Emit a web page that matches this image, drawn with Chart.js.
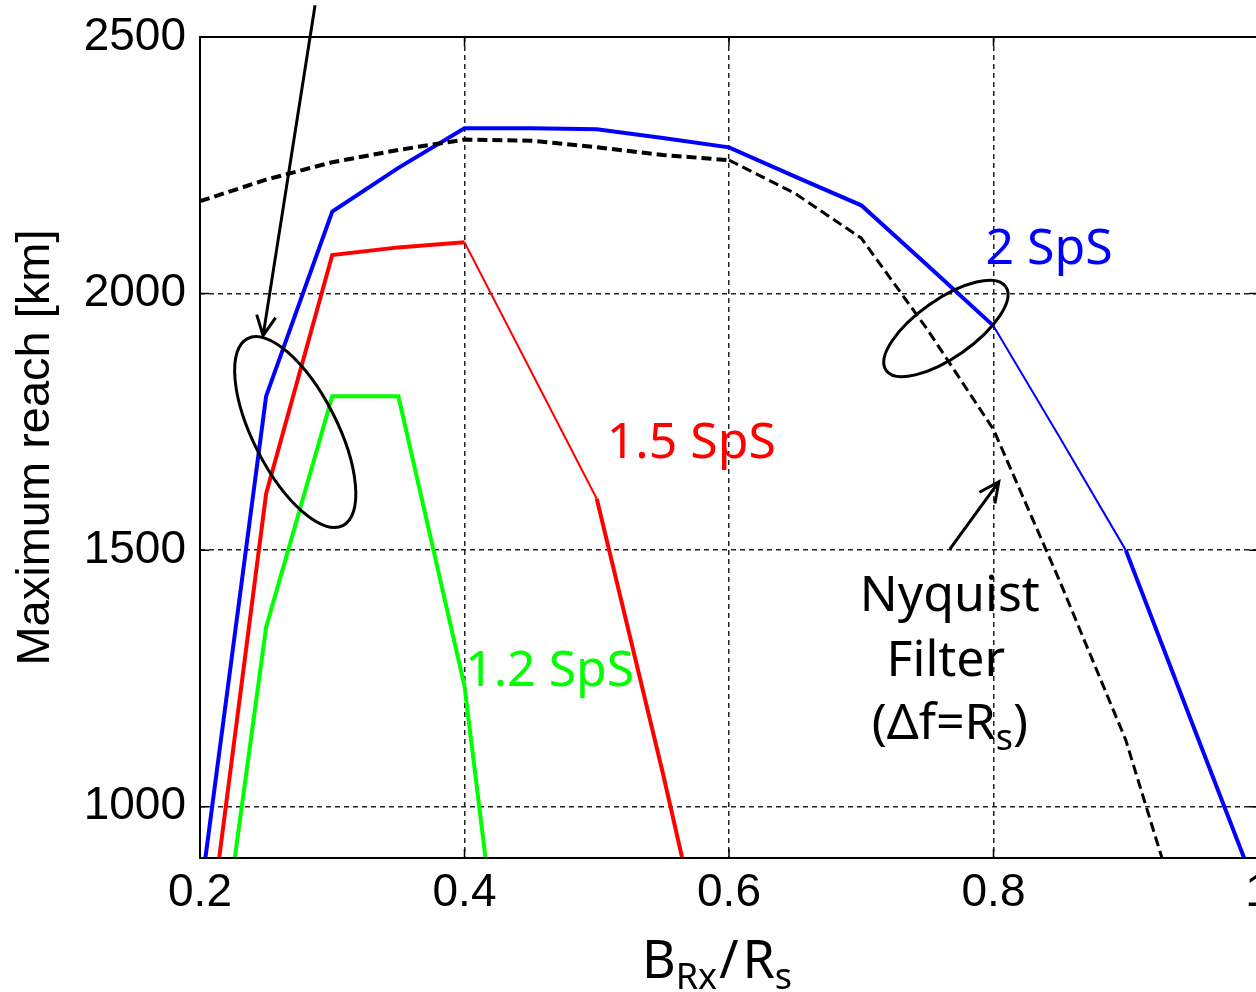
<!DOCTYPE html>
<html>
<head>
<meta charset="utf-8">
<script src="https://cdn.jsdelivr.net/npm/chart.js@4.4.1/dist/chart.umd.min.js"></script>
<style>
  html, body { margin: 0; padding: 0; background: #fff; overflow: hidden; }
  canvas { display: block; }
</style>
</head>
<body>
<canvas id="myChart" width="1300" height="992"></canvas>
<script>
// values
let xs = [0.2, 0.25, 0.3, 0.35, 0.4, 0.45, 0.5, 0.55, 0.6, 0.65, 0.7, 0.75, 0.8, 0.85, 0.9, 0.95, 1.0];
let sps2 = [820, 1800, 2160, 2245, 2322, 2322, 2320, 2303, 2285, 2228, 2172, 2055, 1937, 1720, 1500, 1164, 830];
let sps15 = [610, 1610, 2075, 2090, 2100, 1850, 1600, 1065, 500, null, null, null, null, null, null, null, null];
let sps12 = [400, 1350, 1800, 1800, 1235, 180, null, null, null, null, null, null, null, null, null, null, null];
let nyquist = [2180, 2222, 2256, 2280, 2300, 2298, 2285, 2270, 2260, 2195, 2108, 1930, 1735, 1440, 1130, 710, 300];

let xTicks = [0.2, 0.4, 0.6, 0.8, 1.0];
let xTickLabels = ["0.2", "0.4", "0.6", "0.8", "1"];
let yTicks = [1000, 1500, 2000, 2500];

function points(ys) {
  let out = [];
  ys.forEach(function (y, i) {
    if (y !== null) out.push({ x: xs[i], y: y });
  });
  return out;
}

// thin segments as they look in the picture
function thinBetween(a, b, thick, thin) {
  return function (ctx) {
    let x0 = ctx.p0.parsed.x;
    return (x0 >= a - 1e-6 && x0 < b - 1e-6) ? thin : thick;
  };
}

function drawSubText(ctx, parts, cx, y, big, small, family, color) {
  let total = 0;
  parts.forEach(function (p) {
    ctx.font = (p.sub ? small : big) + "px " + family;
    p.w = ctx.measureText(p.t).width + (p.gap || 0);
    total += p.w;
  });
  let x = cx - total / 2;
  ctx.fillStyle = color;
  ctx.textAlign = "left";
  ctx.textBaseline = "alphabetic";
  parts.forEach(function (p) {
    ctx.font = (p.sub ? small : big) + "px " + family;
    ctx.fillText(p.t, x, p.sub ? y + big * 0.22 : y);
    x += p.w;
  });
}

function arrow(ctx, x1, y1, x2, y2) {
  let ang = Math.atan2(y2 - y1, x2 - x1);
  let len = 22, spread = 0.45;
  ctx.beginPath();
  ctx.moveTo(x1, y1);
  ctx.lineTo(x2, y2);
  ctx.moveTo(x2 - len * Math.cos(ang - spread), y2 - len * Math.sin(ang - spread));
  ctx.lineTo(x2, y2);
  ctx.lineTo(x2 - len * Math.cos(ang + spread), y2 - len * Math.sin(ang + spread));
  ctx.stroke();
}

const decor = {
  id: "decor",
  afterDatasetsDraw(chart) {
    const ctx = chart.ctx;
    const a = chart.chartArea;
    const xs_ = chart.scales.x, ys_ = chart.scales.y;
    ctx.save();
    // inner tick marks
    ctx.strokeStyle = "#000";
    ctx.lineWidth = 1.5;
    ctx.beginPath();
    xTicks.forEach(function (v) {
      let px = xs_.getPixelForValue(v);
      ctx.moveTo(px, a.bottom); ctx.lineTo(px, a.bottom - 9);
      ctx.moveTo(px, a.top); ctx.lineTo(px, a.top + 9);
    });
    yTicks.forEach(function (v) {
      let py = ys_.getPixelForValue(v);
      ctx.moveTo(a.left, py); ctx.lineTo(a.left + 9, py);
      ctx.moveTo(a.right, py); ctx.lineTo(a.right - 9, py);
    });
    ctx.stroke();
    // frame
    ctx.lineWidth = 2;
    ctx.strokeRect(a.left, a.top, a.right - a.left, a.bottom - a.top);
    ctx.restore();
  },
  afterDraw(chart) {
    const ctx = chart.ctx;
    const a = chart.chartArea;
    const X = v => chart.scales.x.getPixelForValue(v);
    const Y = v => chart.scales.y.getPixelForValue(v);
    ctx.save();

    // x axis title  B_Rx / R_s
    drawSubText(ctx, [
      { t: "B" }, { t: "Rx", sub: true, gap: 2 }, { t: "/", gap: 4 }, { t: "R" }, { t: "s", sub: true }
    ], (a.left + a.right) / 2 - 12, 978, 52, 36, '"Noto Sans"', "#000");

    // series labels
    ctx.font = '50px "Noto Sans"';
    ctx.textAlign = "center";
    ctx.textBaseline = "alphabetic";
    ctx.fillStyle = "#0000ff";
    ctx.fillText("2 SpS", X(0.842), Y(2057));
    ctx.fillStyle = "#ff0000";
    ctx.fillText("1.5 SpS", X(0.5715), Y(1680));
    ctx.fillStyle = "#00ff00";
    ctx.fillText("1.2 SpS", X(0.4644), Y(1236));
    ctx.fillStyle = "#000";
    ctx.fillText("Nyquist", X(0.767), Y(1381));
    ctx.fillText("Filter", X(0.764), Y(1254));
    drawSubText(ctx, [
      { t: "(\u0394f=R" }, { t: "s", sub: true }, { t: ")" }
    ], X(0.767), Y(1131), 50, 36, '"Noto Sans"', "#000");

    // ellipses and arrows
    ctx.strokeStyle = "#000";
    ctx.lineWidth = 3;
    ctx.beginPath();
    ctx.ellipse(X(0.272), Y(1730), 105, 42, 63 * Math.PI / 180, 0, Math.PI * 2);
    ctx.stroke();
    ctx.beginPath();
    ctx.ellipse(X(0.764), Y(1932), 73, 29, -35 * Math.PI / 180, 0, Math.PI * 2);
    ctx.stroke();
    arrow(ctx, X(0.287), Y(2562), X(0.2477), Y(1918));
    arrow(ctx, X(0.767), Y(1502), X(0.804), Y(1633));
    ctx.restore();
  }
};

const ctx = document.getElementById("myChart").getContext("2d");
const chart = new Chart(ctx, {
  type: "line",
  data: {
    datasets: [
      {
        label: "1.2 SpS",
        data: points(sps12),
        borderColor: "#00ff00",
        borderWidth: 4
      },
      {
        label: "1.5 SpS",
        data: points(sps15),
        borderColor: "#ff0000",
        borderWidth: 4,
        segment: { borderWidth: thinBetween(0.4, 0.5, 4, 2) }
      },
      {
        label: "Nyquist",
        data: points(nyquist),
        borderColor: "#000",
        borderWidth: 4,
        borderDash: [10, 5],
        segment: { borderWidth: thinBetween(0.6, 1.01, 4, 3) }
      },
      {
        label: "2 SpS",
        data: points(sps2),
        borderColor: "#0000ff",
        borderWidth: 4,
        segment: { borderWidth: thinBetween(0.8, 0.9, 4, 2) }
      }
    ]
  },
  options: {
    responsive: false,
    animation: false,
    events: [],
    layout: { padding: { top: 37, right: 42, left: 0, bottom: 0 } },
    elements: { point: { radius: 0 }, line: { tension: 0 } },
    datasets: { line: { clip: 0 } },
    plugins: {
      legend: { display: false },
      tooltip: { enabled: false }
    },
    scales: {
      x: {
        type: "linear",
        min: 0.2,
        max: 1.0,
        afterBuildTicks: function (axis) {
          axis.ticks = xTicks.map(v => ({ value: v }));
        },
        afterFit: function (axis) {
          axis.height = 134;
          axis.paddingLeft = 0;
          axis.paddingRight = 0;
        },
        ticks: {
          callback: function (v, i) { return xTickLabels[i]; },
          font: { family: "Liberation Sans", size: 46 },
          color: "#000",
          padding: 8,
          maxRotation: 0,
          autoSkip: false
        },
        grid: { color: "#222", lineWidth: 1.5, drawTicks: false },
        border: { display: false, dash: [5, 4] }
      },
      y: {
        type: "linear",
        min: 900,
        max: 2500,
        afterBuildTicks: function (axis) {
          axis.ticks = yTicks.map(v => ({ value: v }));
        },
        afterFit: function (axis) {
          axis.width = 200;
          axis.paddingTop = 0;
          axis.paddingBottom = 0;
        },
        ticks: {
          callback: function (v) { return String(v); },
          font: { family: "Liberation Sans", size: 46 },
          color: "#000",
          padding: 14
        },
        title: {
          display: true,
          text: "Maximum reach [km]",
          font: { family: "Liberation Sans", size: 47 },
          color: "#000",
          padding: { top: 8, bottom: 0 }
        },
        grid: { color: "#222", lineWidth: 1.5, drawTicks: false },
        border: { display: false, dash: [5, 4] }
      }
    }
  },
  plugins: [decor]
});
</script>
</body>
</html>
